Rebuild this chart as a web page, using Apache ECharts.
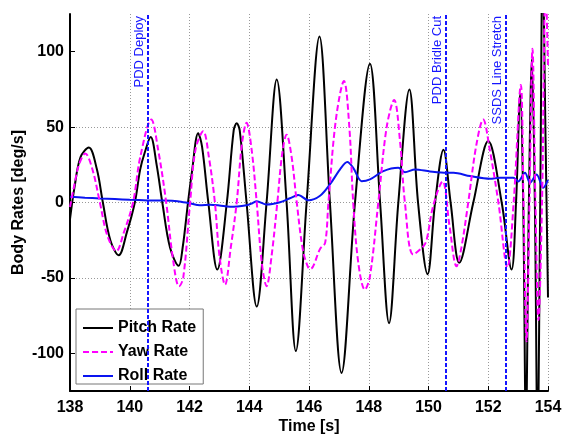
<!DOCTYPE html>
<html>
<head>
<meta charset="utf-8">
<script src="https://cdn.jsdelivr.net/npm/echarts@6/dist/echarts.min.js"></script>
<style>html,body{margin:0;padding:0;background:#fff}#c{width:570px;height:437px}</style>
</head>
<body>
<div id="c"></div>
<script>
// Time [s] and value [deg/s] pairs
var pitchRate = [
  [138.0,-11],[138.15,10],[138.35,30],[138.63,36.5],[138.9,22],[139.1,0],[139.35,-25],[139.63,-35],
  [139.9,-20],[140.17,0],[140.35,22],[140.5,33],[140.7,43.5],[140.9,25],[141.09,0],[141.35,-30],
  [141.64,-42],[141.77,-30],[141.95,0],[142.08,20],[142.29,46],[142.42,37],[142.63,0],[142.93,-44.5],
  [143.25,0],[143.48,48],[143.58,52.5],[143.68,48],[143.91,0],[144.25,-69],[144.58,0],[144.92,81.5],
  [145.25,0],[145.56,-98.5],[145.92,0],[146.35,110],[146.7,0],[147.09,-113],[147.54,0],[148.04,92],
  [148.38,0],[148.68,-80],[148.99,0],[149.36,75],[149.65,0],[149.97,-47.5],[150.22,0],[150.5,35],
  [150.74,0],[151.03,-40],[151.5,0],[152.0,40.7],[152.45,0],[152.78,-44.5],[152.93,0],[153.07,72],
  [153.17,0],[153.26,-150],[153.36,0],[153.46,95],[153.56,0],[153.65,-160],[153.74,0],[153.82,160],
  [153.92,40],[154.0,-63]
];
var yawRate = [
  [138.0,-3],[138.15,12],[138.3,25],[138.51,32.5],[138.75,22],[139.0,0],[139.25,-22],[139.55,-32.3],
  [139.8,-20],[140.11,0],[140.35,30],[140.72,55],[140.95,35],[141.22,0],[141.45,-38],[141.65,-55.6],
  [141.79,-50],[142.02,0],[142.2,35],[142.46,47.3],[142.65,30],[142.85,0],[143.0,-35],[143.19,-54.5],
  [143.38,-30],[143.58,0],[143.75,38],[143.91,52.9],[144.08,35],[144.25,0],[144.42,-40],[144.58,-55.5],
  [144.75,-35],[144.94,0],[145.1,32],[145.25,45],[145.42,30],[145.59,0],[145.8,-32],[145.98,-43.4],
  [146.05,-44],[146.37,-30.8],[146.54,-26.8],[146.65,0],[146.9,55],[147.17,80.5],[147.35,50],
  [147.48,0],[147.65,-40],[147.87,-57.8],[148.04,-49],[148.32,0],[148.6,50],[148.85,68],[149.05,40],
  [149.21,0],[149.49,-34.5],[149.83,-29],[149.94,-24.6],[150.16,-2],[150.47,14],[150.7,-15],
  [150.94,-42.3],[151.1,-30],[151.33,0],[151.6,38],[151.83,55],[152.05,35],[152.34,0],[152.64,-43],
  [152.85,0],[153.09,78],[153.18,0],[153.28,-92],[153.38,0],[153.48,102],[153.58,0],[153.68,-78],
  [153.8,0],[153.92,145],[154.0,90]
];
var rollRate = [
  [138.0,3.8],[138.5,3.2],[139.0,2.7],[139.5,2.3],[140.0,1.8],[140.6,1.4],[141.0,1.3],[141.6,0.9],
  [142.0,-0.5],[142.35,-1.8],[142.69,-1.5],[143.0,-2.0],[143.36,-2.9],[143.91,-1.8],[144.1,-0.5],
  [144.25,0.9],[144.58,-1.3],[145.03,0.2],[145.36,2.8],[145.64,5],[145.98,1.5],[146.37,4.5],
  [146.7,12],[147.04,22],[147.28,26.8],[147.48,23],[147.76,14.1],[148.04,15.3],[148.49,20.8],
  [148.99,23],[149.21,20.1],[149.55,21.9],[150.05,20.6],[150.61,19.7],[150.84,19.7],[151.39,17.5],
  [152.06,15.7],[152.39,16.4],[152.84,16.4],[153.0,14],[153.23,19.7],[153.4,13],[153.62,18.6],
  [153.84,9.7],[154.0,15]
];
var eventTimes = [140.6, 150.58, 152.6];
var eventNames = ['PDD Deploy', 'PDD Bridle Cut', 'SSDS Line Stretch'];
var xTicks = [138, 154, 2];
var yTicks = [-100, -50, 0, 50, 100];

var font = "'Liberation Sans', Arial, Helvetica, sans-serif";
var chart = echarts.init(document.getElementById('c'), null, {renderer: 'canvas'});
var markData = eventTimes.map(function (t, i) { return {xAxis: t, label: {formatter: eventNames[i]}}; });

chart.setOption({
  animation: false,
  backgroundColor: '#fff',
  grid: {left: 70, right: 22, top: 14, bottom: 46, containLabel: false, outerBoundsMode: 'none'},
  xAxis: {
    type: 'value', min: xTicks[0], max: xTicks[1], interval: xTicks[2],
    name: 'Time [s]', nameLocation: 'middle', nameGap: 28, nameMoveOverlap: false,
    nameTextStyle: {fontFamily: font, fontWeight: 'bold', fontSize: 16, color: '#000'},
    axisLine: {onZero: false, lineStyle: {color: '#000', width: 2}},
    axisTick: {inside: true, length: 5, lineStyle: {color: '#000', width: 1}},
    axisLabel: {fontFamily: font, fontWeight: 'bold', fontSize: 16, color: '#000', margin: 9},
    splitLine: {show: true, showMinLine: false, lineStyle: {color: '#999', type: [1, 2], width: 1}}
  },
  yAxis: {
    type: 'value', min: -125, max: 125, splitNumber: 5,
    name: 'Body Rates [deg/s]', nameLocation: 'middle', nameGap: 43, nameRotate: 90,
    nameMoveOverlap: false,
    nameTextStyle: {fontFamily: font, fontWeight: 'bold', fontSize: 16, color: '#000'},
    axisLine: {onZero: false, lineStyle: {color: '#000', width: 2}},
    axisTick: {inside: true, length: 5, customValues: yTicks, lineStyle: {color: '#000', width: 1}},
    axisLabel: {fontFamily: font, fontWeight: 'bold', fontSize: 16, color: '#000', margin: 6,
      customValues: yTicks},
    splitLine: {show: true, showMinLine: false, showMaxLine: false,
      lineStyle: {color: '#999', type: [1, 2], width: 1}}
  },
  legend: {
    orient: 'vertical', left: 76, top: 309,
    backgroundColor: '#fff', borderColor: '#777', borderWidth: 1,
    padding: [11, 7, 0, 6], itemWidth: 30, itemHeight: 1, itemGap: 8,
    textStyle: {fontFamily: font, fontWeight: 'bold', fontSize: 16, color: '#000'},
    data: ['Pitch Rate', 'Yaw Rate', 'Roll Rate']
  },
  series: [
    {
      name: 'Roll Rate', type: 'line', data: rollRate, symbol: 'none', smooth: 0.3, z: 3,
      lineStyle: {color: '#0a14f0', width: 2}, itemStyle: {color: '#0a14f0'}
    },
    {
      name: 'Yaw Rate', type: 'line', data: yawRate, symbol: 'none', smooth: 0.35, z: 4,
      lineStyle: {color: '#ff00ff', width: 2, type: [6, 3]}, itemStyle: {color: '#ff00ff'}
    },
    {
      name: 'Pitch Rate', type: 'line', data: pitchRate, symbol: 'none', smooth: 0.35, z: 2,
      lineStyle: {color: '#000', width: 2}, itemStyle: {color: '#000'},
      markLine: {
        silent: true, symbol: ['none', 'none'], animation: false,
        lineStyle: {color: '#1515ff', width: 2, type: [4, 2]},
        label: {position: 'insideEndTop', distance: 2, fontFamily: font, fontSize: 13, color: '#1515ff'},
        data: markData
      }
    }
  ]
});
</script>
</body>
</html>
